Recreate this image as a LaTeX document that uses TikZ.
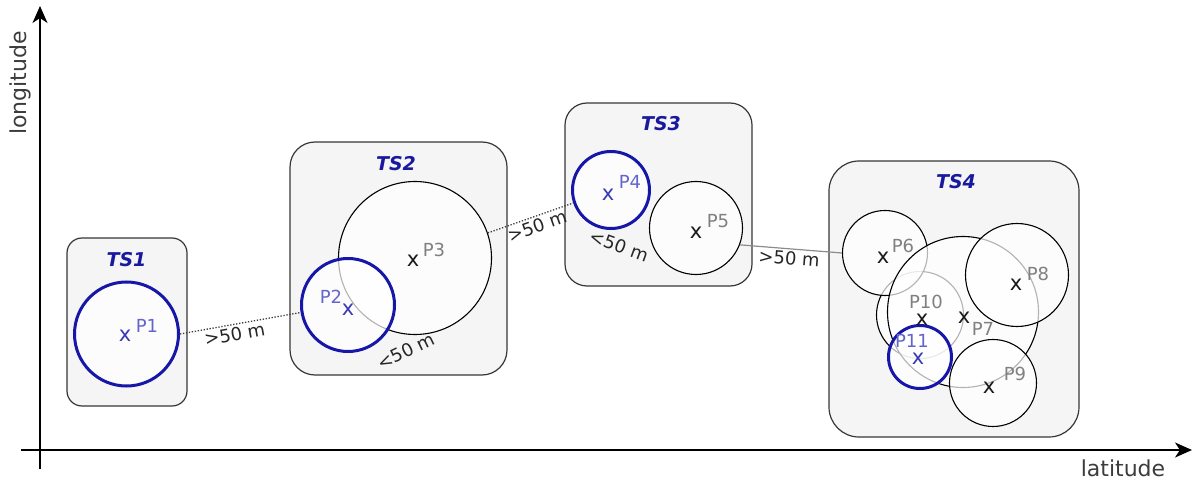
\documentclass[tikz,border=0pt]{standalone}
\usepackage{fontspec}
\setmainfont{DejaVu Sans}
\usetikzlibrary{arrows.meta}
\definecolor{cblue}{RGB}{22,22,168}
\definecolor{lblue}{RGB}{100,100,205}
\definecolor{tsblue}{RGB}{25,25,160}
\definecolor{pgray}{RGB}{128,128,128}
\definecolor{boxfill}{RGB}{245,245,245}
\definecolor{boxline}{RGB}{55,55,55}
\definecolor{axtext}{RGB}{60,60,60}
\definecolor{dotc}{RGB}{60,60,60}
\definecolor{grayline}{RGB}{140,140,140}
\begin{document}
\begin{tikzpicture}[x=1pt,y=-1pt,
  tsbox/.style={rectangle,draw=boxline,fill=boxfill,line width=1.2pt,inner sep=0pt},
  zone/.style={circle,draw=black,line width=1.1pt,fill=white,fill opacity=0.7,inner sep=0pt},
  bzone/.style={zone,draw=cblue,line width=3pt},
  xm/.style={inner sep=0pt,font=\fontsize{21}{21}\selectfont,text=black!90},
  bxm/.style={xm,text=cblue!85!white},
  plab/.style={inner sep=0pt,font=\fontsize{18}{18}\selectfont,text=pgray},
  bplab/.style={plab,text=lblue},
  tslab/.style={inner sep=0pt,font=\fontsize{19}{19}\selectfont\bfseries\itshape,text=tsblue},
  dist/.style={font=\fontsize{18}{18}\selectfont,text=black!85,inner sep=2pt},
  dotline/.style={draw=dotc,line width=1.3pt,dash pattern=on 1.3pt off 1.7pt},
  axis/.style={draw=black,line width=1.8pt},
  axlab/.style={font=\fontsize{22}{22}\selectfont,text=axtext,inner sep=0pt}
]
\useasboundingbox (0,0) rectangle (1197,481);

% axes
\coordinate (ybot) at (40,469);
\coordinate (ytop) at (40,6);
\coordinate (xl) at (21,450);
\coordinate (xr) at (1192,450);
\draw[axis,-{Stealth[length=17pt,width=15pt,inset=5pt]}] (ybot) -- (ytop);
\draw[axis,-{Stealth[length=17pt,width=15pt,inset=5pt]}] (xl) -- (xr);
\node[axlab,rotate=90] (lon) at (20,83) {longitude};
\node[axlab] (lat) at (1123,468) {latitude};

% boxes
\node[tsbox,minimum width=120pt,minimum height=168pt,rounded corners=15pt] (ts1) at (127,322) {};
\node[tsbox,minimum width=217pt,minimum height=233pt,rounded corners=25pt] (ts2) at (398.5,258.5) {};
\node[tsbox,minimum width=187pt,minimum height=183pt,rounded corners=22pt] (ts3) at (658.5,194.5) {};
\node[tsbox,minimum width=250pt,minimum height=276pt,rounded corners=30pt] (ts4) at (954,299) {};

\node[tslab] (ts1l) at (126.5,260) {TS1};
\node[tslab] (ts2l) at (396,164) {TS2};
\node[tslab] (ts3l) at (661,124) {TS3};
\node[tslab] (ts4l) at (956,182) {TS4};

% zones (draw order matters for overlaps)
\node[bzone,minimum size=104pt] (p1) at (126.5,334) {};
\node[zone,minimum size=153pt] (p3) at (415,258) {};
\node[bzone,minimum size=93pt] (p2) at (348,305) {};
\node[bzone,minimum size=77pt] (p4) at (611,190) {};
\node[zone,minimum size=93pt] (p5) at (696,228) {};
\node[zone,minimum size=87pt] (p10) at (920,315) {};
\node[zone,minimum size=85pt] (p6) at (885,253) {};
\node[zone,minimum size=151pt] (p7) at (963,312) {};
\node[zone,minimum size=103pt] (p8) at (1017,275) {};
\node[zone,minimum size=87pt] (p9) at (993,383) {};
\node[bzone,minimum size=63pt] (p11) at (920,357) {};

% connectors
\draw[dotline] (p1.east) -- node[dist,sloped,below,pos=0.44] {>50 m} (p2.189);
\draw[dotline] (p3.19) -- node[dist,sloped,below,pos=0.54] {>50 m} (p4.199);
\draw[draw=grayline,line width=1.2pt] (p5.-21) -- node[dist,sloped,below,pos=0.49] {>50 m} (p6.west);

% intra-cluster distances
\node[dist,rotate=26] (d23) at (406,351) {<50 m};
\node[dist,rotate=-20] (d45) at (619,246) {<50 m};

% point marks
\node[bxm] (x1) at (125,336) {x};
\node[bxm] (x2) at (348,310) {x};
\node[xm] (x3) at (413,261) {x};
\node[bxm] (x4) at (608,195) {x};
\node[xm] (x5) at (696,233) {x};
\node[xm] (x6) at (883,258) {x};
\node[xm] (x7) at (964,318) {x};
\node[xm] (x8) at (1016,285) {x};
\node[xm] (x9) at (989,388) {x};
\node[xm] (x10) at (922,320) {x};
\node[bxm] (x11) at (918,359) {x};

% point labels
\node[bplab] (l1) at (147,326) {P1};
\node[bplab] (l2) at (331,297) {P2};
\node[plab] (l3) at (434,250) {P3};
\node[bplab] (l4) at (630,182) {P4};
\node[plab] (l5) at (718,221) {P5};
\node[plab] (l6) at (903,246) {P6};
\node[plab] (l7) at (983,329) {P7};
\node[plab] (l8) at (1038,274) {P8};
\node[plab] (l9) at (1015,374) {P9};
\node[plab] (l10) at (926,302) {P10};
\node[bplab] (l11) at (912,341) {P11};
\end{tikzpicture}
\end{document}
